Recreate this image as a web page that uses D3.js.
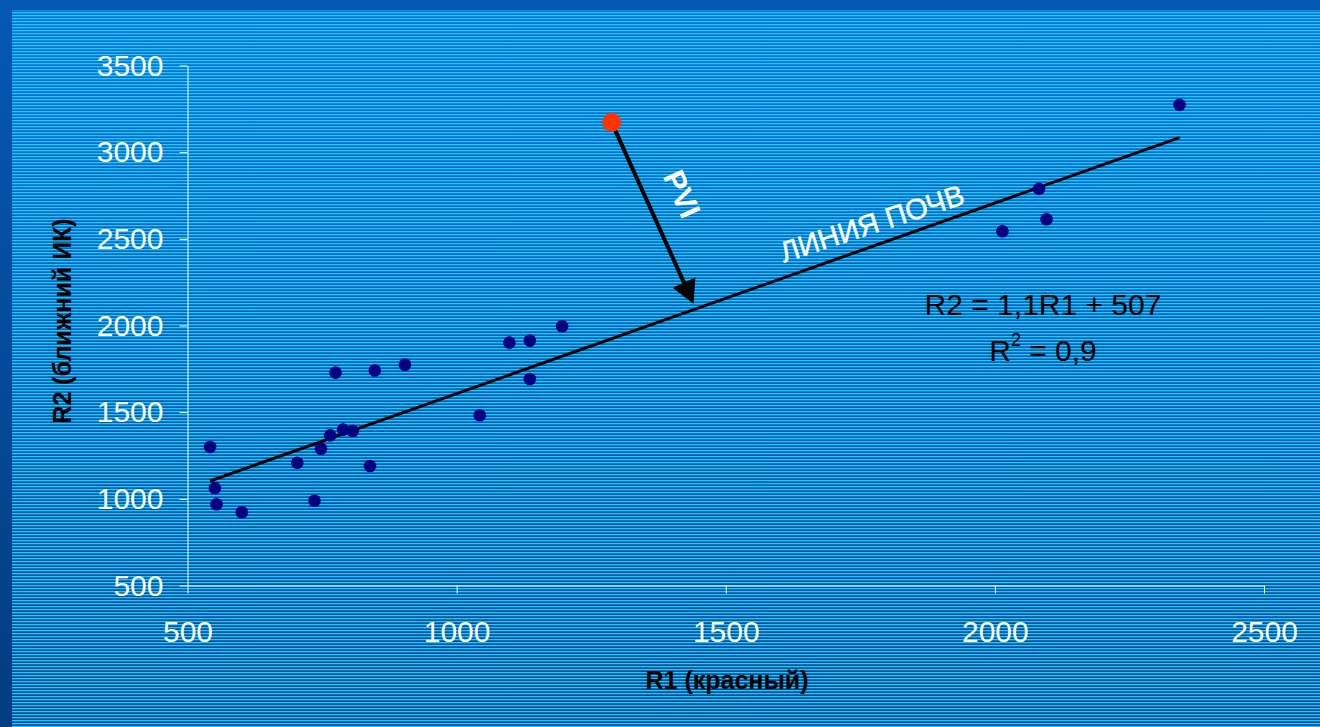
<!DOCTYPE html>
<html>
<head>
<meta charset="utf-8">
<script src="https://cdn.jsdelivr.net/npm/d3@7"></script>
<style>
  html, body { margin: 0; padding: 0; overflow: hidden; }
  svg { display: block; }
</style>
</head>
<body>
<script>
// soil points
const soilR1 = [542, 551, 554, 601, 704, 736, 748, 765, 775, 789, 807, 839, 848, 904,
                1043, 1098, 1136, 1136, 1196, 2014, 2082, 2096, 2343];
const soilR2 = [1299, 1062, 969, 923, 1208, 989, 1289, 1366, 1728, 1399, 1391, 1189, 1740, 1774,
                1482, 1901, 1913, 1691, 1996, 2544, 2788, 2613, 3273];
// soil line ends (R2 = 1,1R1 + 507)
const lineR1 = [542, 2343];
const lineR2 = [1103, 3084];
// vegetation pixel and the foot of the PVI arrow
const plantR1 = [1288];
const plantR2 = [3172];
const arrowEnd = [1440, 2126];

const xTicks = [500, 1000, 1500, 2000, 2500];
const yTicks = [500, 1000, 1500, 2000, 2500, 3000, 3500];

const width = 1320, height = 727;
const font = "'Liberation Sans', Arial, sans-serif";

const svg = d3.select("body").append("svg")
    .attr("width", width)
    .attr("height", height);

// background: blue gradient with thin cyan stripes
const defs = svg.append("defs");
const grad = defs.append("linearGradient")
    .attr("id", "bg").attr("x1", 0).attr("y1", 0).attr("x2", 0).attr("y2", 1);
grad.append("stop").attr("offset", "0%").attr("stop-color", "#0558b4");
grad.append("stop").attr("offset", "100%").attr("stop-color", "#033c80");

const grad2 = defs.append("linearGradient")
    .attr("id", "bg2").attr("x1", 0).attr("y1", 0).attr("x2", 0).attr("y2", 1);
grad2.append("stop").attr("offset", "0%").attr("stop-color", "#0a72d4");
grad2.append("stop").attr("offset", "100%").attr("stop-color", "#04488e");

const pat = defs.append("pattern")
    .attr("id", "stripes")
    .attr("patternUnits", "userSpaceOnUse")
    .attr("width", 8).attr("height", 3);
pat.append("rect").attr("width", 8).attr("height", 1.3).attr("fill", "#18cbff");

svg.append("rect").attr("width", width).attr("height", height).attr("fill", "url(#bg)");
svg.append("rect")
    .attr("x", 12).attr("y", 10)
    .attr("width", width - 12).attr("height", height - 10)
    .attr("fill", "url(#bg2)");
svg.append("rect")
    .attr("x", 12).attr("y", 10)
    .attr("width", width - 12).attr("height", height - 10)
    .attr("fill", "url(#stripes)");

let x = d3.scaleLinear().domain([500, 2500]).range([187.5, 1264]);
let y = d3.scaleLinear().domain([500, 3500]).range([585.5, 65.5]);

// axes
let xAxis = d3.axisBottom(x).tickValues(xTicks).tickFormat(d3.format("d"))
    .tickSize(8).tickSizeOuter(0).tickPadding(27);
let yAxis = d3.axisLeft(y).tickValues(yTicks).tickFormat(d3.format("d"))
    .tickSize(8).tickSizeOuter(0).tickPadding(16);

let gx = svg.append("g").attr("transform", `translate(0,${y(500)})`).call(xAxis);
let gy = svg.append("g").attr("transform", `translate(${x(500)},0)`).call(yAxis);

[gx, gy].forEach(g => {
    g.selectAll("path, line").attr("stroke", "#fff").attr("stroke-width", 1);
    g.selectAll("text")
        .attr("fill", "#fff")
        .style("font-family", font)
        .style("font-size", "30px");
});

// axis titles
svg.append("text")
    .attr("x", 727).attr("y", 689)
    .attr("text-anchor", "middle")
    .style("font-family", font)
    .style("font-size", "25px").style("font-weight", "bold")
    .attr("fill", "#000")
    .text("R1 (красный)");

svg.append("text")
    .attr("transform", "translate(71,321) rotate(-90)")
    .attr("text-anchor", "middle")
    .style("font-family", font)
    .style("font-size", "25px").style("font-weight", "bold")
    .attr("fill", "#000")
    .text("R2 (ближний ИК)");

// soil line
svg.append("line")
    .attr("x1", x(lineR1[0])).attr("y1", y(lineR2[0]))
    .attr("x2", x(lineR1[1])).attr("y2", y(lineR2[1]))
    .attr("stroke", "#000").attr("stroke-width", 3);

// soil points
svg.append("g")
    .selectAll("circle")
    .data(soilR1.map((v, i) => ({ r1: v, r2: soilR2[i] })))
    .enter().append("circle")
    .attr("cx", d => x(d.r1))
    .attr("cy", d => y(d.r2))
    .attr("r", 6.3)
    .attr("fill", "#000080");

// PVI arrow
const ax0 = x(plantR1[0]), ay0 = y(plantR2[0]);
const ax1 = x(arrowEnd[0]), ay1 = y(arrowEnd[1]);
const len = Math.hypot(ax1 - ax0, ay1 - ay0);
const ux = (ax1 - ax0) / len, uy = (ay1 - ay0) / len;
const headLen = 23, headHalf = 12.5;
svg.append("line")
    .attr("x1", ax0).attr("y1", ay0)
    .attr("x2", ax1 - ux * (headLen - 2)).attr("y2", ay1 - uy * (headLen - 2))
    .attr("stroke", "#000").attr("stroke-width", 4);
svg.append("path")
    .attr("d", d3.line()([
        [ax1, ay1],
        [ax1 - ux * headLen - uy * headHalf, ay1 - uy * headLen + ux * headHalf],
        [ax1 - ux * headLen + uy * headHalf, ay1 - uy * headLen - ux * headHalf]
    ]) + "Z")
    .attr("fill", "#000");

// vegetation point
svg.append("g")
    .selectAll("circle")
    .data(plantR1.map((v, i) => ({ r1: v, r2: plantR2[i] })))
    .enter().append("circle")
    .attr("cx", d => x(d.r1))
    .attr("cy", d => y(d.r2))
    .attr("r", 9.5)
    .attr("fill", "#ff3300");

const angle = Math.atan2(uy, ux) * 180 / Math.PI;
svg.append("text")
    .attr("transform", `translate(682,194) rotate(${angle})`)
    .attr("text-anchor", "middle")
    .attr("dy", "0.35em")
    .style("font-family", font)
    .style("font-size", "30px").style("font-weight", "bold")
    .attr("fill", "#fff")
    .text("PVI");

// soil line label
svg.append("text")
    .attr("transform", "translate(875,233) rotate(-18)")
    .attr("text-anchor", "middle")
    .style("font-family", font)
    .style("font-size", "29px")
    .attr("fill", "#fff")
    .attr("stroke", "#fff").attr("stroke-width", 0.4)
    .text("ЛИНИЯ ПОЧВ");

// regression equation
svg.append("text")
    .attr("x", 1043).attr("y", 315)
    .attr("text-anchor", "middle")
    .style("font-family", font)
    .style("font-size", "30px")
    .attr("fill", "#000")
    .text("R2 = 1,1R1 + 507");

let r2 = svg.append("text")
    .attr("x", 1043).attr("y", 361)
    .attr("text-anchor", "middle")
    .style("font-family", font)
    .style("font-size", "30px")
    .attr("fill", "#000");
r2.append("tspan").text("R");
r2.append("tspan").attr("dy", -15).style("font-size", "18px").text("2");
r2.append("tspan").attr("dy", 15).text(" = 0,9");
</script>
</body>
</html>
